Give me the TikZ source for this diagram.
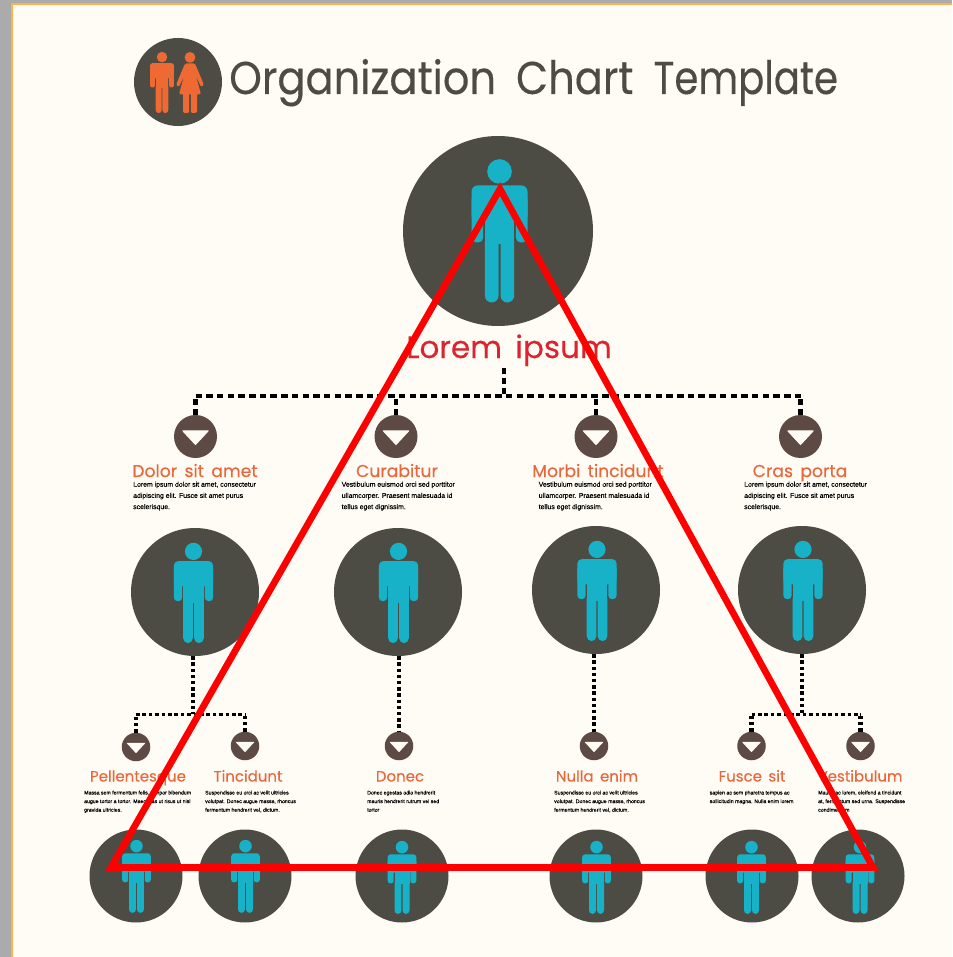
\documentclass[tikz,border=0pt]{standalone}
\usepackage{fontspec}
\setmainfont[FakeBold=0.15]{Liberation Sans}
\newfontfamily\headfont[WordSpace=1.6,FakeBold=0.2]{Poppins}
\newfontfamily\titlefont[WordSpace=1.8,FakeStretch=0.904,FakeBold=0.3]{Poppins}
\newfontfamily\titlefontnarrow[FakeStretch=0.84,FakeBold=0.3]{Poppins}
\definecolor{paper}{HTML}{FFFCF5}
\definecolor{sidegray}{HTML}{ABABAB}
\definecolor{frameorange}{HTML}{FFB04A}
\definecolor{discdark}{HTML}{4D4C44}
\definecolor{discbrown}{HTML}{5D4A44}
\definecolor{figteal}{HTML}{17B2C8}
\definecolor{figorange}{HTML}{EE6A32}
\definecolor{labelorange}{HTML}{E8673C}
\definecolor{toplabel}{HTML}{DC2430}
\definecolor{overlayred}{HTML}{FF0000}
\tikzset{
  disc/.style={circle,fill=discdark,inner sep=0pt,minimum size=#1},
  arrowdisc/.style={circle,fill=discbrown,inner sep=0pt,minimum size=#1},
  connA/.style={draw=black,line width=3.7pt,dash pattern=on 6.5pt off 4.2pt},
  connV/.style={draw=black,line width=4.6pt,dash pattern=on 5.5pt off 4.5pt},
  connB/.style={draw=black,line width=4.6pt,dash pattern=on 3.4pt off 2.8pt},
  connC/.style={draw=black,line width=3pt,dash pattern=on 3.6pt off 2.8pt},
  labelA/.style={anchor=base,text=labelorange,inner sep=0pt,font=\headfont\fontsize{17.2}{20}\selectfont},
  labelB/.style={anchor=base,text=labelorange,inner sep=0pt,font=\headfont\fontsize{15}{18}\selectfont},
  bodyA/.style={anchor=north west,inner sep=0pt,align=left,text=black,font=\fontsize{6.9}{11.2}\selectfont},
  bodyB/.style={anchor=north west,inner sep=0pt,align=left,text=black,font=\fontsize{5.2}{8.6}\selectfont},
}
% figure: x of centre, y of head top, scale, colour
\newcommand{\figman}[4]{%
  \begin{scope}[shift={(#1,#2)},scale=#3]
    \fill[#4] (0,12) circle (12.3);
    \fill[#4,rounded corners=#3*6pt] (-28,26) rectangle (28,62);
    \fill[#4,rounded corners=#3*5pt] (-28,35) rectangle (-16.3,83) (16.3,35) rectangle (28,83);
    \fill[#4] (-14.7,35) rectangle (14.7,85);
    \fill[#4,rounded corners=#3*7pt] (-14.7,75) rectangle (-1,143) (1,75) rectangle (14.7,143);
  \end{scope}}
\newcommand{\downmark}[2]{%
  \fill[paper,line join=round,draw=paper,line width=.8pt,shift={(#1)},scale=#2]
    (-12.5,-5.5) -- (12.5,-5.5) -- (0,8) -- cycle;}
\begin{document}
\begin{tikzpicture}[x=1pt,y=-1pt]
\useasboundingbox (0,0) rectangle (952,957);
\fill[sidegray] (0,0) rectangle (952,957);
\fill[frameorange] (11,3) rectangle (952,957);
\fill[paper] (13,5) rectangle (952,957);

% logo
\node[disc=88pt] (logo) at (178,82) {};
\figman{162}{52}{.427}{figorange}
\begin{scope}[shift={(190,52)}]
  \fill[figorange] (0,5.4) circle (5.4);
  \fill[figorange,rounded corners=1.5pt] (-5,11.5) -- (5,11.5) -- (14,33) -- (11,35) -- (6,24) -- (11,42.5) -- (-11,42.5) -- (-6,24) -- (-11,35) -- (-14,33) -- cycle;
  \fill[figorange,rounded corners=2pt] (-7,40) rectangle (-.8,61) (.8,40) rectangle (7,61);
\end{scope}
\node[anchor=base west,inner sep=0pt,text=discdark,font=\titlefont\fontsize{46}{50}\selectfont] (title) at (229,94) {Organization Chart {\titlefontnarrow\fontsize{46}{50}\selectfont Template}};

% top
\node[disc=190pt] (boss) at (498,231) {};
\figman{499.5}{159.5}{1}{figteal}
\node[anchor=base,inner sep=0pt,text=toplabel,font=\headfont\fontsize{31}{36}\selectfont] (bosslabel) at (509,358) {Lorem ipsum};

% second row arrow discs
\node[arrowdisc=43pt] (a1) at (195.5,436.5) {};
\node[arrowdisc=43pt] (a2) at (396,436.5) {};
\node[arrowdisc=43pt] (a3) at (596,436.5) {};
\node[arrowdisc=43pt] (a4) at (800.5,436.5) {};
\foreach \n in {a1,a2,a3,a4}{\downmark{\n}{1.02}}

\coordinate (bosstem) at (504,368);
\coordinate (bar) at (504,396);
\draw[connV] (bosstem) -- (bar);
\draw[connA] (a1.north |- bar) -- (a4.north |- bar);
\draw[connV] (a1.north) -- (a1.north |- bar);
\draw[connV] (a2.north) -- (a2.north |- bar);
\draw[connV] (a3.north) -- (a3.north |- bar);
\draw[connV] (a4.north) -- (a4.north |- bar);

\node[labelA] (l1) at (195,477) {Dolor sit amet};
\node[labelA] (l2) at (397,477) {Curabitur};
\node[labelA] (l3) at (598,477) {Morbi tincidunt};
\node[labelA] (l4) at (800,477) {Cras porta};
\node[bodyA] (t1) at (133,481.5) {Lorem ipsum dolor sit amet, consectetur\\adipiscing elit. Fusce sit amet purus\\scelerisque.};
\node[bodyA] (t2) at (341.5,481.5) {Vestibulum euismod orci sed porttitor\\ullamcorper. Praesent malesuada id\\tellus eget dignissim.};
\node[bodyA] (t3) at (538.5,481.5) {Vestibulum euismod orci sed porttitor\\ullamcorper. Praesent malesuada id\\tellus eget dignissim.};
\node[bodyA] (t4) at (744,481.5) {Lorem ipsum dolor sit amet, consectetur\\adipiscing elit. Fusce sit amet purus\\scelerisque.};

% second row people
\node[disc=128pt] (p1) at (195,592) {};
\node[disc=128pt] (p2) at (398,592) {};
\node[disc=128pt] (p3) at (596,590) {};
\node[disc=128pt] (p4) at (802,590) {};
\figman{193.5}{543}{.7}{figteal}
\figman{398.5}{543}{.7}{figteal}
\figman{597}{541}{.7}{figteal}
\figman{803}{541}{.7}{figteal}

% third row arrow discs
\node[arrowdisc=28.5pt] (b1) at (136,747) {};
\node[arrowdisc=28.5pt] (b2) at (245,746) {};
\node[arrowdisc=28.5pt] (b3) at (399,746) {};
\node[arrowdisc=28.5pt] (b4) at (594,746) {};
\node[arrowdisc=28.5pt] (b5) at (751.5,746) {};
\node[arrowdisc=28.5pt] (b6) at (860.5,746) {};
\foreach \n in {b1,b2,b3,b4,b5,b6}{\downmark{\n}{.7}}

\coordinate (busl) at (193,714);
\coordinate (busr) at (802,714);
\draw[connB] (p1.south -| busl) -- (busl);
\draw[connC] (b1.north |- busl) -- (b2.north |- busl);
\draw[connB] (b1.north) -- (b1.north |- busl);
\draw[connB] (b2.north) -- (b2.north |- busl);
\draw[connB] (p2.south -| b3.north) -- (b3.north);
\draw[connB] (p3.south -| b4.north) -- (b4.north);
\draw[connB] (p4.south) -- (busr);
\draw[connC] (b5.north |- busr) -- (b6.north |- busr);
\draw[connB] (b5.north) -- (b5.north |- busr);
\draw[connB] (b6.north) -- (b6.north |- busr);

\node[labelB] (m1) at (138,781.5) {Pellentesque};
\node[labelB] (m2) at (248,781.5) {Tincidunt};
\node[labelB] (m3) at (400,781.5) {Donec};
\node[labelB] (m4) at (597,781.5) {Nulla enim};
\node[labelB] (m5) at (752,781.5) {Fusce sit};
\node[labelB] (m6) at (860,781.5) {Vestibulum};
\node[bodyB] (u1) at (84,790.5) {Massa sem fermentum felis, tempor bibendum\\augue tortor a tortor. Maecenas ut risus ut nisl\\gravida ultricies.};
\node[bodyB] (u2) at (205,790.5) {Suspendisse eu orci ac velit ultricies\\volutpat. Donec augue massa, rhoncus\\fermentum hendrerit vel, dictum.};
\node[bodyB] (u3) at (367,790.5) {Donec egestas odio hendrerit\\mauris hendrerit rutrum vel sed\\tortor};
\node[bodyB] (u4) at (554,790.5) {Suspendisse eu orci ac velit ultricies\\volutpat. Donec augue massa, rhoncus\\fermentum hendrerit vel, dictum.};
\node[bodyB] (u5) at (709.5,790.5) {sapien ac sem pharetra tempus ac\\sollicitudin magna. Nulla enim lorem};
\node[bodyB] (u6) at (818,790.5) {Mauris ac lorem, eleifend a tincidunt\\at, fermentum sed urna. Suspendisse\\condimentum};

% bottom row people
\node[disc=93pt] (q1) at (136,876) {};
\node[disc=93pt] (q2) at (245,876) {};
\node[disc=93pt] (q3) at (402,876) {};
\node[disc=93pt] (q4) at (596,876) {};
\node[disc=93pt] (q5) at (752,876) {};
\node[disc=93pt] (q6) at (858,876) {};
\figman{136.5}{840}{.51}{figteal}
\figman{245.5}{840}{.51}{figteal}
\figman{402}{841}{.51}{figteal}
\figman{596.5}{841}{.51}{figteal}
\figman{751.5}{841}{.51}{figteal}
\figman{860}{841}{.51}{figteal}

% red overlay triangle
\coordinate (apex) at (500,189);
\coordinate (baseL) at (111,867.4);
\coordinate (baseR) at (873,867.4);
\draw[overlayred,line width=6.7pt,line join=miter] (apex) -- (baseR) -- (baseL) -- cycle;
\end{tikzpicture}
\end{document}
